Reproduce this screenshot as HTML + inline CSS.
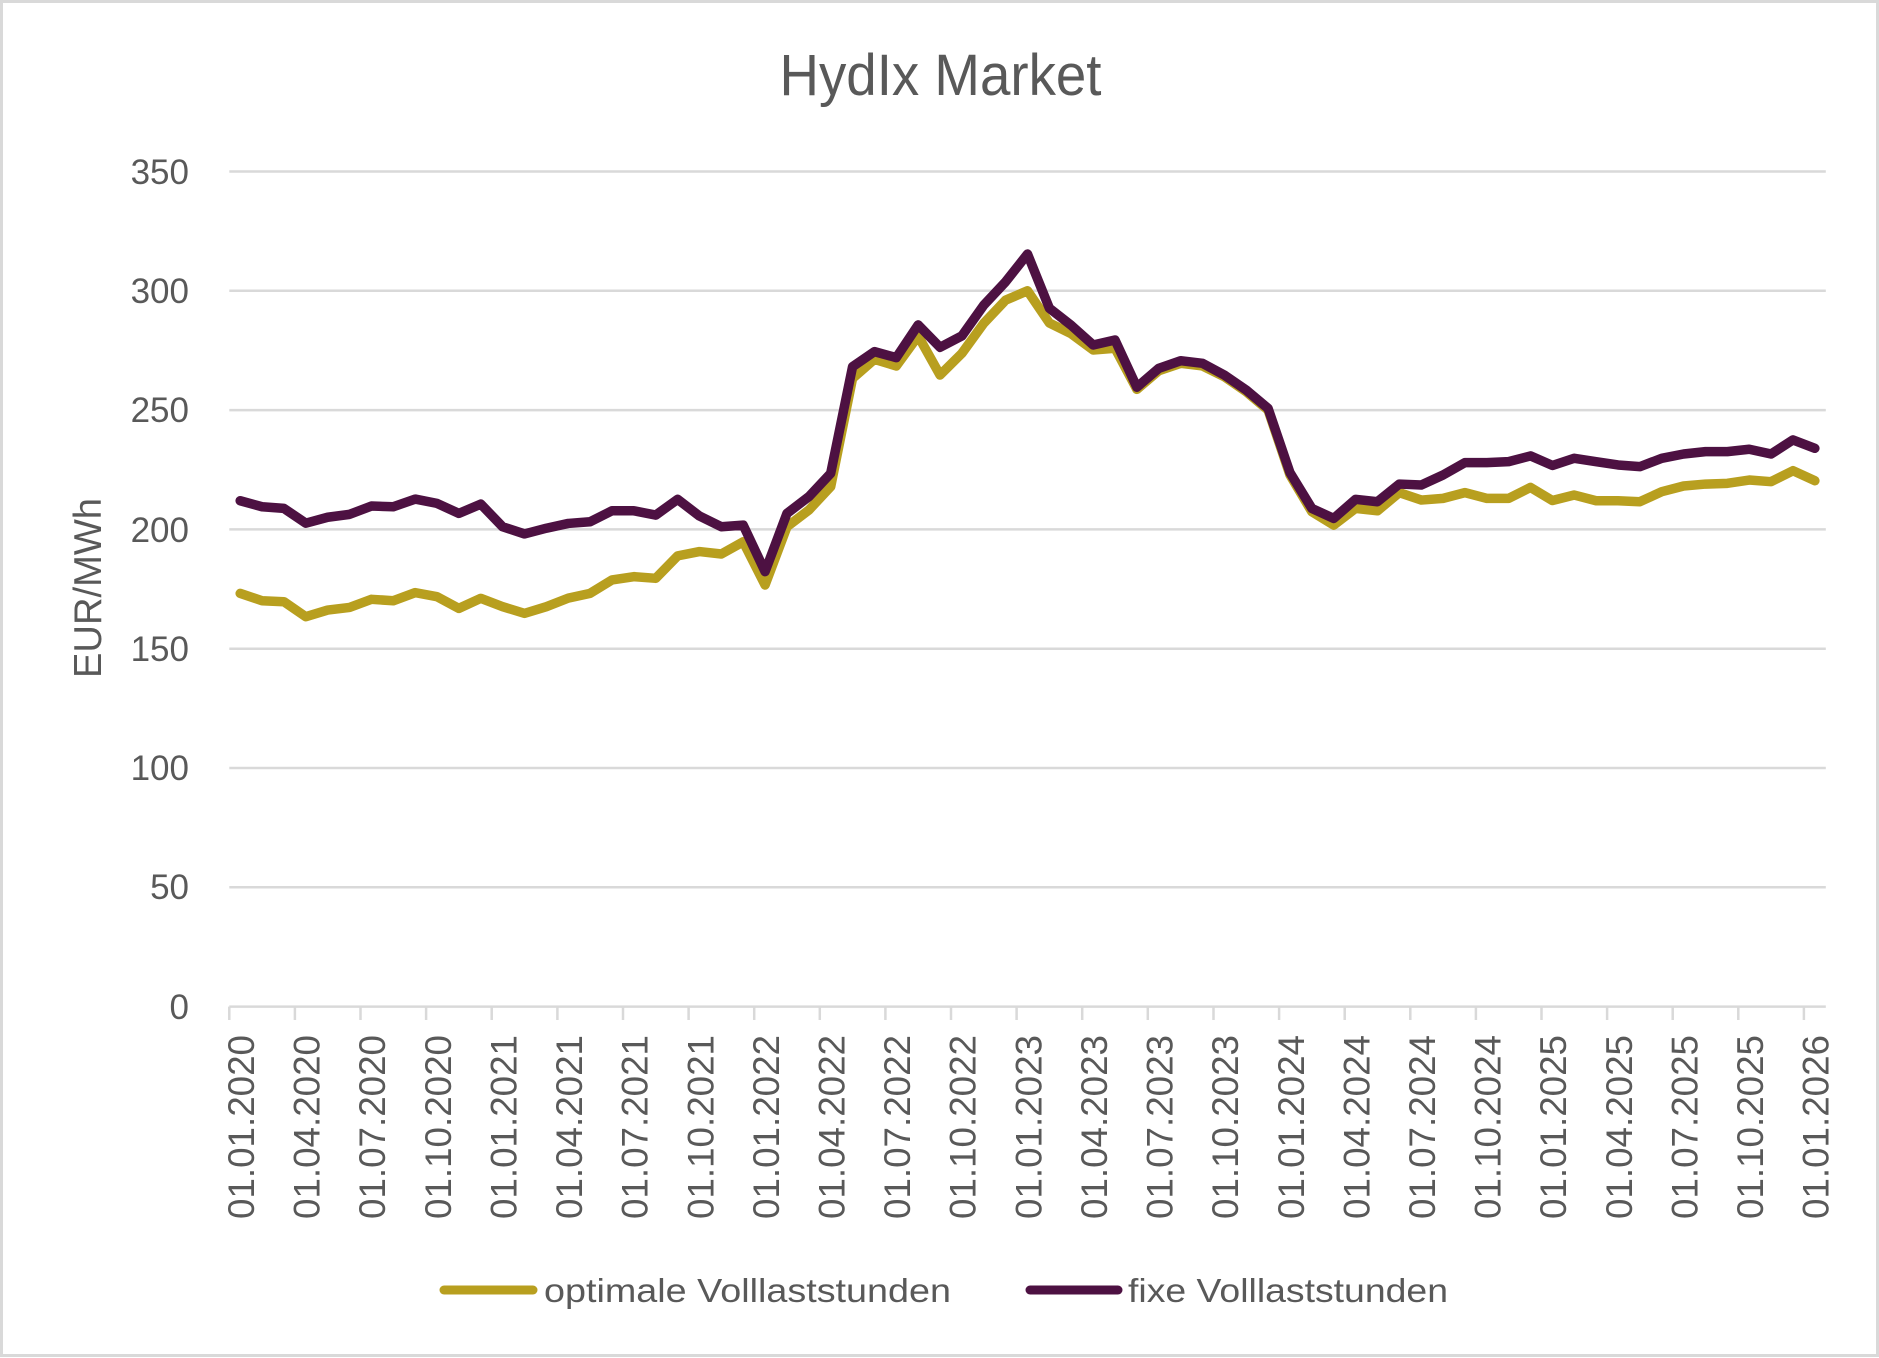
<!DOCTYPE html>
<html>
<head>
<meta charset="utf-8">
<style>
  html, body { margin:0; padding:0; background:#fff; }
  body { width:1879px; height:1358px; overflow:hidden; }
  svg { display:block; }
  text { font-family: "Liberation Sans", "DejaVu Sans", sans-serif; fill:#595959; }
</style>
</head>
<body>
<svg width="1879" height="1358" viewBox="0 0 1879 1358" xmlns="http://www.w3.org/2000/svg">
  <rect x="0" y="0" width="1879" height="1358" fill="#ffffff"/>
  <rect x="1.5" y="1.5" width="1876" height="1354" fill="none" stroke="#d9d9d9" stroke-width="3"/>

  <!-- Title -->
  <text x="940.5" y="95" font-size="58" text-anchor="middle" textLength="322" lengthAdjust="spacingAndGlyphs">HydIx Market</text>

  <!-- Gridlines -->
  <g stroke="#d9d9d9" stroke-width="2.5">
    <line x1="229.3" y1="171.5" x2="1825.8" y2="171.5"/>
    <line x1="229.3" y1="290.8" x2="1825.8" y2="290.8"/>
    <line x1="229.3" y1="410.1" x2="1825.8" y2="410.1"/>
    <line x1="229.3" y1="529.4" x2="1825.8" y2="529.4"/>
    <line x1="229.3" y1="648.7" x2="1825.8" y2="648.7"/>
    <line x1="229.3" y1="768.0" x2="1825.8" y2="768.0"/>
    <line x1="229.3" y1="887.3" x2="1825.8" y2="887.3"/>
    <line x1="229.3" y1="1006.6" x2="1825.8" y2="1006.6"/>
  </g>

  <!-- Ticks -->
  <g stroke="#d9d9d9" stroke-width="2.5">
    <line x1="229.3" y1="1006.6" x2="229.3" y2="1020"/>
    <line x1="294.9" y1="1006.6" x2="294.9" y2="1020"/>
    <line x1="360.5" y1="1006.6" x2="360.5" y2="1020"/>
    <line x1="426.1" y1="1006.6" x2="426.1" y2="1020"/>
    <line x1="491.7" y1="1006.6" x2="491.7" y2="1020"/>
    <line x1="557.4" y1="1006.6" x2="557.4" y2="1020"/>
    <line x1="623.0" y1="1006.6" x2="623.0" y2="1020"/>
    <line x1="688.6" y1="1006.6" x2="688.6" y2="1020"/>
    <line x1="754.2" y1="1006.6" x2="754.2" y2="1020"/>
    <line x1="819.8" y1="1006.6" x2="819.8" y2="1020"/>
    <line x1="885.4" y1="1006.6" x2="885.4" y2="1020"/>
    <line x1="951.0" y1="1006.6" x2="951.0" y2="1020"/>
    <line x1="1016.6" y1="1006.6" x2="1016.6" y2="1020"/>
    <line x1="1082.2" y1="1006.6" x2="1082.2" y2="1020"/>
    <line x1="1147.8" y1="1006.6" x2="1147.8" y2="1020"/>
    <line x1="1213.5" y1="1006.6" x2="1213.5" y2="1020"/>
    <line x1="1279.1" y1="1006.6" x2="1279.1" y2="1020"/>
    <line x1="1344.7" y1="1006.6" x2="1344.7" y2="1020"/>
    <line x1="1410.3" y1="1006.6" x2="1410.3" y2="1020"/>
    <line x1="1475.9" y1="1006.6" x2="1475.9" y2="1020"/>
    <line x1="1541.5" y1="1006.6" x2="1541.5" y2="1020"/>
    <line x1="1607.1" y1="1006.6" x2="1607.1" y2="1020"/>
    <line x1="1672.7" y1="1006.6" x2="1672.7" y2="1020"/>
    <line x1="1738.3" y1="1006.6" x2="1738.3" y2="1020"/>
    <line x1="1803.9" y1="1006.6" x2="1803.9" y2="1020"/>
  </g>

  <!-- Y labels -->
  <g font-size="35" text-anchor="end">
    <text x="189" y="184">350</text>
    <text x="189" y="303">300</text>
    <text x="189" y="422">250</text>
    <text x="189" y="542">200</text>
    <text x="189" y="661">150</text>
    <text x="189" y="780">100</text>
    <text x="189" y="899">50</text>
    <text x="189" y="1019">0</text>
  </g>

  <!-- Y axis title -->
  <text transform="translate(101,588) rotate(-90)" font-size="39" text-anchor="middle" textLength="180" lengthAdjust="spacingAndGlyphs">EUR/MWh</text>

  <!-- X labels -->
  <g font-size="37" text-anchor="end">
    <text transform="translate(254.0,1035) rotate(-90)" textLength="184" lengthAdjust="spacingAndGlyphs">01.01.2020</text>
    <text transform="translate(319.6,1035) rotate(-90)" textLength="184" lengthAdjust="spacingAndGlyphs">01.04.2020</text>
    <text transform="translate(385.2,1035) rotate(-90)" textLength="184" lengthAdjust="spacingAndGlyphs">01.07.2020</text>
    <text transform="translate(450.8,1035) rotate(-90)" textLength="184" lengthAdjust="spacingAndGlyphs">01.10.2020</text>
    <text transform="translate(516.4,1035) rotate(-90)" textLength="184" lengthAdjust="spacingAndGlyphs">01.01.2021</text>
    <text transform="translate(582.1,1035) rotate(-90)" textLength="184" lengthAdjust="spacingAndGlyphs">01.04.2021</text>
    <text transform="translate(647.7,1035) rotate(-90)" textLength="184" lengthAdjust="spacingAndGlyphs">01.07.2021</text>
    <text transform="translate(713.3,1035) rotate(-90)" textLength="184" lengthAdjust="spacingAndGlyphs">01.10.2021</text>
    <text transform="translate(778.9,1035) rotate(-90)" textLength="184" lengthAdjust="spacingAndGlyphs">01.01.2022</text>
    <text transform="translate(844.5,1035) rotate(-90)" textLength="184" lengthAdjust="spacingAndGlyphs">01.04.2022</text>
    <text transform="translate(910.1,1035) rotate(-90)" textLength="184" lengthAdjust="spacingAndGlyphs">01.07.2022</text>
    <text transform="translate(975.7,1035) rotate(-90)" textLength="184" lengthAdjust="spacingAndGlyphs">01.10.2022</text>
    <text transform="translate(1041.3,1035) rotate(-90)" textLength="184" lengthAdjust="spacingAndGlyphs">01.01.2023</text>
    <text transform="translate(1106.9,1035) rotate(-90)" textLength="184" lengthAdjust="spacingAndGlyphs">01.04.2023</text>
    <text transform="translate(1172.5,1035) rotate(-90)" textLength="184" lengthAdjust="spacingAndGlyphs">01.07.2023</text>
    <text transform="translate(1238.2,1035) rotate(-90)" textLength="184" lengthAdjust="spacingAndGlyphs">01.10.2023</text>
    <text transform="translate(1303.8,1035) rotate(-90)" textLength="184" lengthAdjust="spacingAndGlyphs">01.01.2024</text>
    <text transform="translate(1369.4,1035) rotate(-90)" textLength="184" lengthAdjust="spacingAndGlyphs">01.04.2024</text>
    <text transform="translate(1435.0,1035) rotate(-90)" textLength="184" lengthAdjust="spacingAndGlyphs">01.07.2024</text>
    <text transform="translate(1500.6,1035) rotate(-90)" textLength="184" lengthAdjust="spacingAndGlyphs">01.10.2024</text>
    <text transform="translate(1566.2,1035) rotate(-90)" textLength="184" lengthAdjust="spacingAndGlyphs">01.01.2025</text>
    <text transform="translate(1631.8,1035) rotate(-90)" textLength="184" lengthAdjust="spacingAndGlyphs">01.04.2025</text>
    <text transform="translate(1697.4,1035) rotate(-90)" textLength="184" lengthAdjust="spacingAndGlyphs">01.07.2025</text>
    <text transform="translate(1763.0,1035) rotate(-90)" textLength="184" lengthAdjust="spacingAndGlyphs">01.10.2025</text>
    <text transform="translate(1828.6,1035) rotate(-90)" textLength="184" lengthAdjust="spacingAndGlyphs">01.01.2026</text>
  </g>

  <!-- Series (data space: x = month index, y = EUR/MWh) -->
  <g transform="translate(240.2,1006.6) scale(21.87,-2.386)">
    <polyline fill="none" stroke="#B89F1F" stroke-width="9.5" stroke-linejoin="round" stroke-linecap="round" vector-effect="non-scaling-stroke"
      points="0,173.2 1,170.1 2,169.7 3,163.4 4,166.2 5,167.3 6,170.7 7,170.1 8,173.5 9,171.8 10,166.9 11,171.1 12,167.6 13,164.8 14,167.6 15,171.2 16,173.2 17,178.8 18,180.2 19,179.5 20,188.9 21,190.7 22,189.7 23,194.8 24,176.7 25,201.1 26,208.1 27,217.9 28,263.3 29,271.3 30,268.5 31,281.1 32,264.7 33,273.8 34,286.4 35,296.1 36,300.0 37,286.5 38,282.0 39,275.2 40,275.9 41,258.7 42,266.5 43,269.6 44,268.5 45,264.0 46,257.7 47,250.0 48,222.8 49,207.4 50,201.8 51,208.8 52,207.8 53,215.4 54,212.3 55,213.0 56,215.4 57,213.0 58,213.0 59,217.6 60,212.1 61,214.4 62,212.0 63,212.0 64,211.6 65,215.8 66,218.2 67,219.0 68,219.3 69,220.7 70,220.0 71,224.6 72,220.4"/>
    <polyline fill="none" stroke="#4D1142" stroke-width="9.5" stroke-linejoin="round" stroke-linecap="round" vector-effect="non-scaling-stroke"
      points="0,212.0 1,209.5 2,208.8 3,202.6 4,205.1 5,206.3 6,209.8 7,209.5 8,212.7 9,210.9 10,206.7 11,210.6 12,201.1 13,198.1 14,200.5 15,202.5 16,203.2 17,207.8 18,207.8 19,206.0 20,212.6 21,205.6 22,201.1 23,201.8 24,182.3 25,206.7 26,213.7 27,223.5 28,268.2 29,274.5 30,272.0 31,285.7 32,276.3 33,281.1 34,294.0 35,303.8 36,315.4 37,292.7 38,285.5 39,277.3 40,279.4 41,259.6 42,267.5 43,270.7 44,269.6 45,264.7 46,258.4 47,250.7 48,223.8 49,208.8 50,204.6 51,212.6 52,211.6 53,219.0 54,218.6 55,222.8 56,228.0 57,228.0 58,228.4 59,230.8 60,226.8 61,229.8 62,228.4 63,227.0 64,226.3 65,229.8 66,231.6 67,232.6 68,232.6 69,233.6 70,231.6 71,237.5 72,234.0"/>
  </g>

  <!-- Legend -->
  <line x1="444" y1="1290" x2="533" y2="1290" stroke="#B89F1F" stroke-width="9" stroke-linecap="round"/>
  <text x="544" y="1302" font-size="33" textLength="407" lengthAdjust="spacingAndGlyphs">optimale Volllaststunden</text>
  <line x1="1030" y1="1290" x2="1118" y2="1290" stroke="#4D1142" stroke-width="9" stroke-linecap="round"/>
  <text x="1128" y="1302" font-size="33" textLength="320" lengthAdjust="spacingAndGlyphs">fixe Volllaststunden</text>
</svg>
</body>
</html>
